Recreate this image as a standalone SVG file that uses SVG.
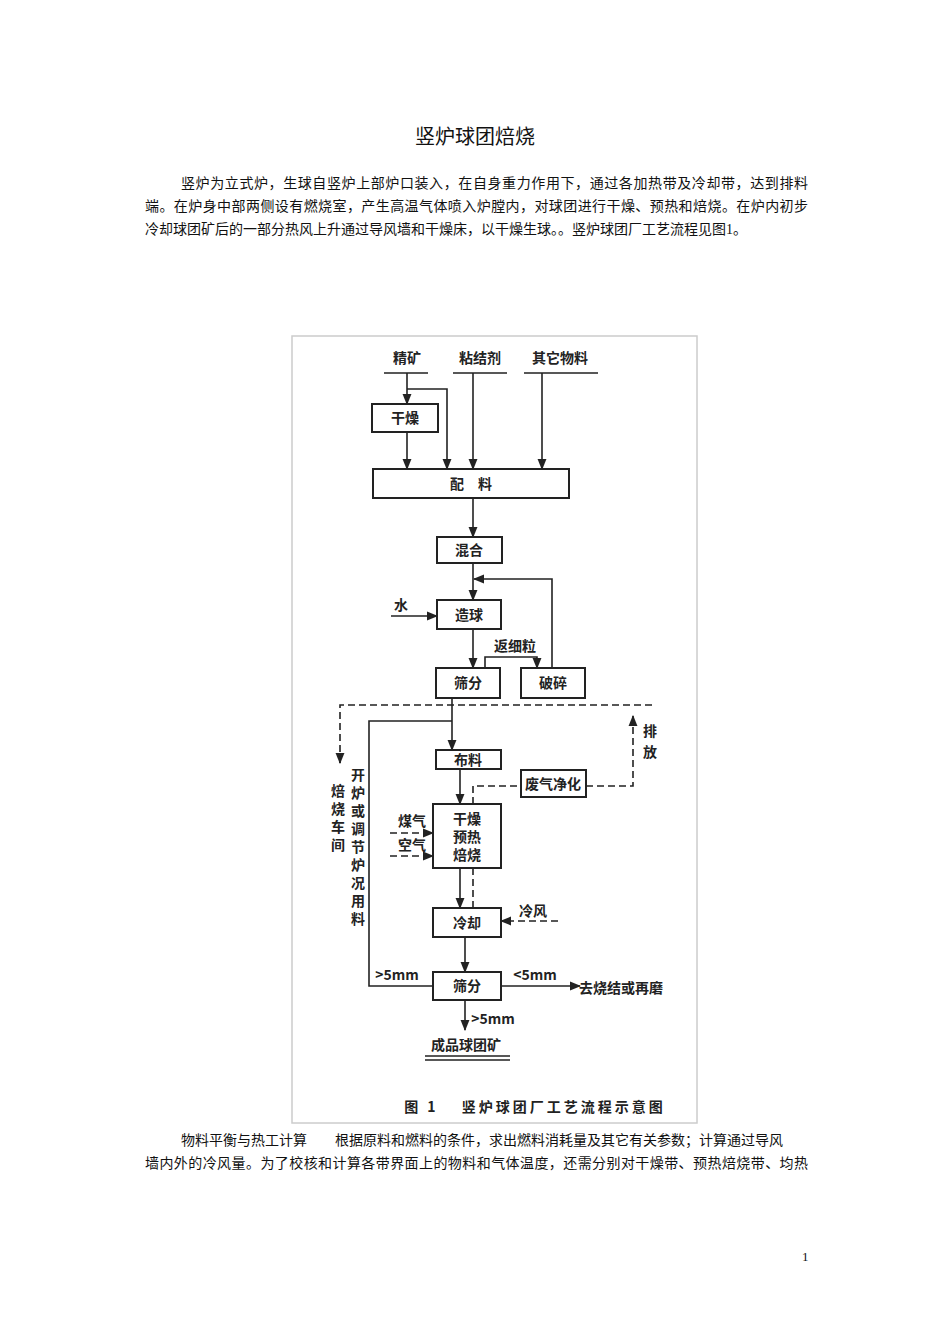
<svg xmlns="http://www.w3.org/2000/svg" width="950" height="1344" viewBox="0 0 950 1344">
<defs>
<marker id="a" viewBox="0 0 10 10" refX="9" refY="5" markerWidth="7" markerHeight="7" orient="auto"><path d="M0,1 L10,5 L0,9 z" fill="#222"/></marker>
</defs>
<style>
.t{font-family:"Liberation Serif","Noto Sans CJK SC",serif;fill:#111}
.p{font-size:14px}
.n{font-family:"Noto Sans CJK SC",sans-serif;font-size:14px;font-weight:bold;fill:#222;text-anchor:middle}
.b{fill:#fff;stroke:#222;stroke-width:2}
.l{fill:none;stroke:#222;stroke-width:1.6}
.d{fill:none;stroke:#222;stroke-width:1.6;stroke-dasharray:7,4}
</style>
<rect width="950" height="1344" fill="#fff"/>
<text class="t" x="475" y="144" font-size="20" text-anchor="middle">竖炉球团焙烧</text>
<text class="t p" x="181" y="188" textLength="627" lengthAdjust="spacing">竖炉为立式炉，生球自竖炉上部炉口装入，在自身重力作用下，通过各加热带及冷却带，达到排料</text>
<text class="t p" x="145" y="211" textLength="663" lengthAdjust="spacing">端。在炉身中部两侧设有燃烧室，产生高温气体喷入炉膛内，对球团进行干燥、预热和焙烧。在炉内初步</text>
<text class="t p" x="145" y="234">冷却球团矿后的一部分热风上升通过导风墙和干燥床，以干燥生球。。竖炉球团厂工艺流程见图1。</text>
<rect x="292" y="336" width="405" height="787" fill="none" stroke="#ccc" stroke-width="1.5"/>
<g id="connectors">
<path class="l" d="M384,373H428M453,373H507M524,373H598"/>
<path class="l" d="M407,373V404" marker-end="url(#a)"/>
<path class="l" d="M407,432V469" marker-end="url(#a)"/>
<path class="l" d="M407,389H447V469" marker-end="url(#a)"/>
<path class="l" d="M473,373V469" marker-end="url(#a)"/>
<path class="l" d="M542,373V469" marker-end="url(#a)"/>
<path class="l" d="M473,498V537" marker-end="url(#a)"/>
<path class="l" d="M473,563V600" marker-end="url(#a)"/>
<path class="l" d="M552,668V579H474" marker-end="url(#a)"/>
<path class="l" d="M391,616H437" marker-end="url(#a)"/>
<path class="l" d="M473,629V668" marker-end="url(#a)"/>
<path class="l" d="M485,668V657H537V668" marker-end="url(#a)"/>
<path class="d" d="M340,763V705H653"/>
<path class="l" d="M340,755V763" marker-end="url(#a)"/>
<path class="l" d="M452,698V750" marker-end="url(#a)"/>
<path class="l" d="M433,986H369V721H452"/>
<path class="l" d="M460,769V804" marker-end="url(#a)"/>
<path class="d" d="M473,804V786H521"/>
<path class="d" d="M586,786H633V716" marker-end="url(#a)"/>
<path class="d" d="M390,833H433" marker-end="url(#a)"/>
<path class="d" d="M390,856H433" marker-end="url(#a)"/>
<path class="l" d="M460,868V908" marker-end="url(#a)"/>
<path class="d" d="M473,868V908"/>
<path class="d" d="M558,921H501" marker-end="url(#a)"/>
<path class="l" d="M465,937V972" marker-end="url(#a)"/>
<path class="l" d="M501,986H580" marker-end="url(#a)"/>
<path class="l" d="M465,1000V1030" marker-end="url(#a)"/>
<path class="l" d="M425,1056H510M425,1060H510"/>
</g>
<g id="n1"><text class="n" x="407" y="363">精矿</text></g>
<g id="n2"><text class="n" x="480" y="363">粘结剂</text></g>
<g id="n3"><text class="n" x="560" y="363">其它物料</text></g>
<g id="n4"><rect class="b" x="372" y="404" width="66" height="28"/><text class="n" x="405" y="423">干燥</text></g>
<g id="n5"><rect class="b" x="373" y="469" width="196" height="29"/><text class="n" x="471" y="489">配　料</text></g>
<g id="n6"><rect class="b" x="437" y="537" width="65" height="26"/><text class="n" x="469" y="555">混合</text></g>
<g id="n7"><rect class="b" x="437" y="600" width="64" height="29"/><text class="n" x="469" y="620">造球</text></g>
<g id="n8"><rect class="b" x="436" y="668" width="64" height="30"/><text class="n" x="468" y="688">筛分</text></g>
<g id="n9"><rect class="b" x="521" y="668" width="64" height="30"/><text class="n" x="553" y="688">破碎</text></g>
<g id="n10"><rect class="b" x="436" y="750" width="65" height="19"/><text class="n" x="468" y="765">布料</text></g>
<g id="n11"><rect class="b" x="521" y="770" width="65" height="27"/><text class="n" x="553" y="789">废气净化</text></g>
<g id="n12"><rect class="b" x="433" y="804" width="68" height="64"/><text class="n" x="467" y="824">干燥</text><text class="n" x="467" y="842">预热</text><text class="n" x="467" y="860">焙烧</text></g>
<g id="n13"><rect class="b" x="433" y="908" width="68" height="29"/><text class="n" x="467" y="928">冷却</text></g>
<g id="n14"><rect class="b" x="433" y="972" width="68" height="28"/><text class="n" x="467" y="991">筛分</text></g>
<g id="n15"><text class="n" x="466" y="1050">成品球团矿</text></g>
<g id="labels">
<text class="n" x="401" y="610">水</text>
<text class="n" x="515" y="651">返细粒</text>
<text class="n" x="650" y="736">排</text><text class="n" x="650" y="757">放</text>
<text class="n" x="338" y="796">焙</text><text class="n" x="338" y="814">烧</text><text class="n" x="338" y="832">车</text><text class="n" x="338" y="850">间</text>
<text class="n" x="358" y="780">开</text><text class="n" x="358" y="798">炉</text><text class="n" x="358" y="816">或</text><text class="n" x="358" y="834">调</text><text class="n" x="358" y="852">节</text><text class="n" x="358" y="870">炉</text><text class="n" x="358" y="888">况</text><text class="n" x="358" y="906">用</text><text class="n" x="358" y="924">料</text>
<text class="n" x="412" y="826">煤气</text>
<text class="n" x="412" y="850">空气</text>
<text class="n" x="533" y="916">冷风</text>
<text class="n" x="397" y="980" font-weight="normal" font-size="13">&gt;5mm</text>
<text class="n" x="535" y="980" font-weight="normal" font-size="13">&lt;5mm</text>
<text class="n" x="621" y="993">去烧结或再磨</text>
<text class="n" x="493" y="1024" font-weight="normal" font-size="13">&gt;5mm</text>
<text class="n" x="535" y="1112" font-size="13" letter-spacing="3">图 1　 竖炉球团厂工艺流程示意图</text>
</g>
<text class="t p" x="181" y="1145">物料平衡与热工计算　　根据原料和燃料的条件，求出燃料消耗量及其它有关参数；计算通过导风</text>
<text class="t p" x="145" y="1168" textLength="663" lengthAdjust="spacing">墙内外的冷风量。为了校核和计算各带界面上的物料和气体温度，还需分别对干燥带、预热焙烧带、均热</text>
<text class="t" x="802" y="1261" font-size="13">1</text>
</svg>
